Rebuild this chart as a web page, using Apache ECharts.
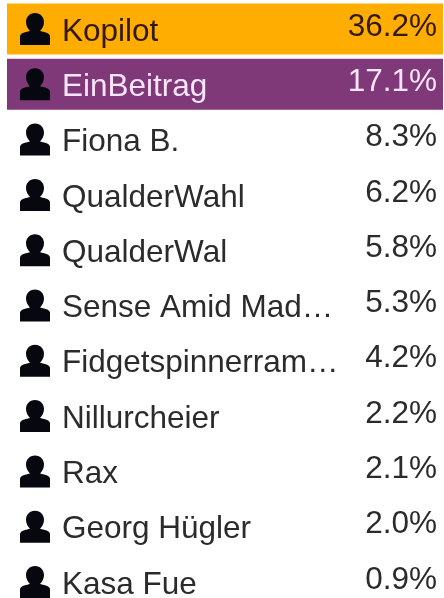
<!DOCTYPE html>
<html>
<head>
<meta charset="utf-8">
<style>
  html, body { margin: 0; padding: 0; background: #fff; }
  #main { width: 444px; height: 598px; }
</style>
<script src="https://cdn.jsdelivr.net/npm/echarts@6/dist/echarts.min.js"></script>
</head>
<body>
<div id="main"></div>
<script>
const names = ['Kopilot', 'EinBeitrag', 'Fiona B.', 'QualderWahl', 'QualderWal', 'Sense Amid Mad…', 'Fidgetspinnerram…', 'Nillurcheier', 'Rax', 'Georg Hügler', 'Kasa Fue'];
const shares = [36.2, 17.1, 8.3, 6.2, 5.8, 5.3, 4.2, 2.2, 2.1, 2.0, 0.9];

// die ersten beiden Zeilen sind farbig hinterlegt
const rowFills = ['#ffad00', '#7f3878'];
const rowText = ['#33190f', '#f7e4f7'];
const userIcon = 'M15 0C20.5 0 24 4 24 9C24 13 22 16 20 18C23 19 29 19 30 23V32H0V23C1 19 7 19 10 18C8 16 6 13 6 9C6 4 9.5 0 15 0Z';
const fontFamily = '"Liberation Sans", Arial, sans-serif';

const chart = echarts.init(document.getElementById('main'));

function renderRow(params, api) {
  const i = params.dataIndex;
  const y = api.coord([0, i])[1];
  const textColor = rowText[i] || '#2b2b2b';
  const children = [];
  if (rowFills[i]) {
    children.push({
      type: 'rect',
      shape: { x: 7, y: y - 25.5, width: 436, height: 51 },
      style: { fill: rowFills[i] },
    });
  }
  children.push({
    type: 'path',
    shape: { pathData: userIcon, x: 20, y: y - 16, width: 30, height: 32 },
    style: { fill: '#07070f' },
  });
  children.push({
    type: 'text',
    style: {
      x: 62, y: y + 3, text: names[i], fill: textColor,
      font: '31.5px ' + fontFamily, textAlign: 'left', textVerticalAlign: 'middle',
    },
  });
  children.push({
    type: 'text',
    style: {
      x: 437, y: y - 2, text: api.value(0).toFixed(1) + '%', fill: textColor,
      font: '31.5px ' + fontFamily, textAlign: 'right', textVerticalAlign: 'middle',
    },
  });
  return { type: 'group', children };
}

chart.setOption({
  animation: false,
  grid: { left: 0, right: 0, top: 0, bottom: 0 },
  xAxis: { type: 'value', min: 0, max: 100, show: false },
  // Zeilenabstand 55.3px: Zeile 0 liegt bei y=29
  yAxis: { type: 'value', inverse: true, min: -29 / 55.3, max: (598 - 29) / 55.3, show: false },
  series: [{
    type: 'custom',
    coordinateSystem: 'cartesian2d',
    renderItem: renderRow,
    encode: { x: 0, y: 1 },
    data: shares.map((v, i) => [v, i]),
    clip: false,
  }],
});
</script>
</body>
</html>
